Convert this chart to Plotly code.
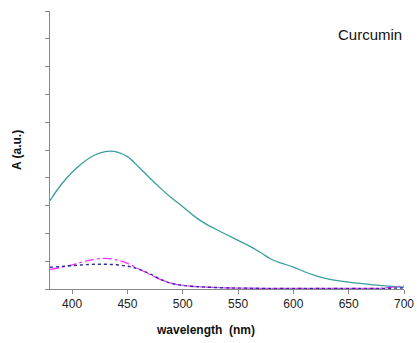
import plotly.graph_objects as go

wl_teal = [380, 390, 400, 410, 420, 430, 435, 440, 450, 460, 470, 480, 490, 500, 510, 520, 530,
           540, 550, 560, 570, 580, 590, 600, 610, 620, 630, 640, 650, 660, 670, 680, 690, 700]
a_teal = [3.18, 3.75, 4.20, 4.55, 4.81, 4.94, 4.96, 4.93, 4.76, 4.40, 4.00, 3.62, 3.27, 2.96, 2.63,
          2.36, 2.15, 1.95, 1.75, 1.55, 1.32, 1.07, 0.92, 0.79, 0.62, 0.48, 0.37, 0.30, 0.25, 0.20,
          0.16, 0.12, 0.09, 0.07]

wl_low = [380, 390, 400, 410, 420, 430, 440, 450, 460, 470, 480, 490, 500, 510, 520, 540, 560,
          580, 600, 620, 650, 670, 680, 690, 700]
a_blue = [0.78, 0.81, 0.84, 0.87, 0.89, 0.89, 0.87, 0.82, 0.72, 0.55, 0.35, 0.20, 0.13, 0.09, 0.07,
          0.04, 0.03, 0.02, 0.02, 0.02, 0.02, 0.02, 0.02, 0.03, 0.04]
a_magenta = [0.70, 0.78, 0.87, 0.98, 1.07, 1.10, 1.05, 0.92, 0.73, 0.53, 0.34, 0.20, 0.13, 0.09,
             0.07, 0.04, 0.03, 0.02, 0.02, 0.02, 0.02, 0.02, 0.03, 0.07, 0.11]

FONT = "Arial, Liberation Sans, sans-serif"

fig = go.Figure()
fig.add_trace(go.Scatter(x=wl_teal, y=a_teal, mode="lines", line=dict(color="#3a9f9c", width=1.3, shape="spline")))
fig.add_trace(go.Scatter(x=wl_low, y=a_magenta, mode="lines", line=dict(color="#ff30ff", width=1.3, dash="dashdot", shape="spline")))
fig.add_trace(go.Scatter(x=wl_low, y=a_blue, mode="lines", line=dict(color="#2a2aa0", width=1.4, dash="dot", shape="spline")))

fig.update_layout(
    width=417, height=343,
    margin=dict(l=50, r=13, t=11, b=54, autoexpand=False),
    paper_bgcolor="white", plot_bgcolor="white",
    showlegend=False,
    font=dict(family=FONT, size=12, color="#222"),
    xaxis=dict(range=[380, 700], tickmode="linear", tick0=400, dtick=50, automargin=False,
               showline=True, linecolor="#888", linewidth=1, ticks="outside", ticklen=4,
               tickcolor="#888", showgrid=False, zeroline=False,
               tickfont=dict(size=12, color="#222")),
    yaxis=dict(range=[0, 10], tickmode="linear", tick0=0, dtick=1, showticklabels=False,
               automargin=False,
               showline=True, linecolor="#888", linewidth=1, ticks="outside", ticklen=4,
               tickcolor="#888", showgrid=False, zeroline=False),
    annotations=[
        dict(text="<b>A (a.u.)</b>", xref="paper", yref="paper", x=-0.093, y=0.5,
             textangle=-90, showarrow=False, xanchor="center", yanchor="middle",
             font=dict(size=12, color="#111")),
        dict(text="<b>wavelength  (nm)</b>", xref="paper", yref="paper", x=0.438, y=-0.146,
             showarrow=False, xanchor="center", yanchor="middle",
             font=dict(size=12, color="#111")),
        dict(text="Curcumin", xref="paper", yref="paper", x=0.904, y=0.917,
             showarrow=False, xanchor="center", yanchor="middle",
             font=dict(size=15, color="#111")),
    ],
)

fig.write_html("out.html")
